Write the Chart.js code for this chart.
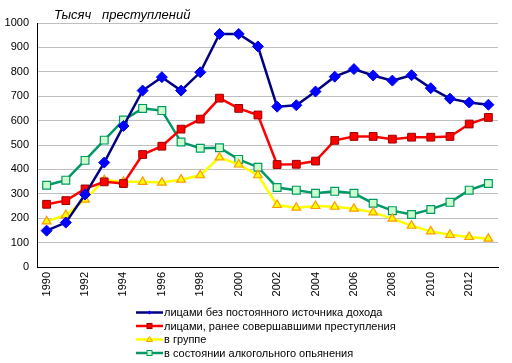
<!DOCTYPE html>
<html>
<head>
<meta charset="utf-8">
<script src="https://cdn.jsdelivr.net/npm/chart.js@4"></script>
<style>
  html, body { margin: 0; padding: 0; background: #fff; }
  #wrap { width: 512px; height: 363px; }
</style>
</head>
<body>
<div id="wrap"><canvas id="myChart" width="512" height="363"></canvas></div>
<script>
const years = [1990, 1991, 1992, 1993, 1994, 1995, 1996, 1997, 1998, 1999, 2000, 2001,
               2002, 2003, 2004, 2005, 2006, 2007, 2008, 2009, 2010, 2011, 2012, 2013];
const noIncome = [149, 182, 297, 428, 578, 723, 778, 723, 798, 955, 955, 904,
                  657, 663, 719, 780, 811, 785, 764, 786, 733, 690, 674, 665];
const repeatOffenders = [257, 272, 320, 349, 342, 461, 495, 565, 606, 692, 650, 623,
                         420, 421, 434, 519, 535, 535, 524, 532, 532, 535, 586, 613];
const inGroup = [187, 213, 276, 356, 349, 349, 346, 358, 376, 449, 420, 376,
                 254, 243, 250, 247, 239, 224, 198, 169, 146, 132, 123, 116];
const drunk = [335, 356, 437, 520, 602, 650, 641, 512, 487, 489, 441, 409,
               326, 315, 302, 310, 302, 261, 231, 215, 236, 265, 315, 342];
const seriesNames = ['лицами без постоянного источника дохода',
                     'лицами, ранее совершавшими преступления',
                     'в группе',
                     'в состоянии алкогольного опьянения'];
const yTicks = [0, 100, 200, 300, 400, 500, 600, 700, 800, 900, 1000];
const titleText = 'Тысяч   преступлений';

const FONT = 'Arial, "Liberation Sans", sans-serif';

// title + vertical legend drawn under the axis
const extras = {
    id: 'extras',
    afterDraw(chart) {
        const c = chart.ctx;
        const area = chart.chartArea;
        c.save();
        c.fillStyle = '#000';
        c.font = 'italic 13px ' + FONT;
        c.textBaseline = 'alphabetic';
        c.textAlign = 'left';
        c.fillText(titleText, area.left + 17, 18.5);

        c.font = '11px ' + FONT;
        c.textBaseline = 'middle';
        const x0 = 136, y0 = 312.5, step = 13.5;
        chart.data.datasets.forEach((ds, i) => {
            const y = y0 + i * step;
            c.strokeStyle = ds.borderColor;
            c.lineWidth = 2.5;
            c.beginPath();
            c.moveTo(x0, y);
            c.lineTo(x0 + 27, y);
            c.stroke();
            c.fillStyle = ds.pointBackgroundColor;
            c.strokeStyle = ds.pointBorderColor;
            c.lineWidth = 1;
            const mx = x0 + 13.5;
            if (ds.pointStyle === 'rectRot') {
                c.beginPath();
                c.moveTo(mx, y - 2); c.lineTo(mx + 2, y); c.lineTo(mx, y + 2); c.lineTo(mx - 2, y);
                c.closePath(); c.fill();
            } else if (ds.pointStyle === 'rect') {
                c.fillRect(mx - 2.5, y - 2.5, 5, 5);
                c.strokeRect(mx - 2.5, y - 2.5, 5, 5);
            } else {
                c.beginPath();
                c.moveTo(mx, y - 3); c.lineTo(mx + 3, y + 2); c.lineTo(mx - 3, y + 2);
                c.closePath(); c.fill(); c.stroke();
            }
            c.fillStyle = '#000';
            c.fillText(ds.label, x0 + 28, y + 0.5);
        });
        c.restore();
    }
};

const ctx = document.getElementById('myChart');
new Chart(ctx, {
    type: 'line',
    data: {
        labels: years,
        datasets: [{
            label: seriesNames[0],
            data: noIncome,
            borderColor: '#000080',
            borderWidth: 2.5,
            pointStyle: 'rectRot',
            pointRadius: 5.5,
            pointBackgroundColor: '#0000ff',
            pointBorderColor: '#0000ff',
            pointBorderWidth: 1
        }, {
            label: seriesNames[1],
            data: repeatOffenders,
            borderColor: '#ff0000',
            borderWidth: 2.5,
            pointStyle: 'rect',
            pointRadius: 5.5,
            pointBackgroundColor: '#ff0000',
            pointBorderColor: '#990000',
            pointBorderWidth: 1
        }, {
            label: seriesNames[2],
            data: inGroup,
            borderColor: '#ffff00',
            borderWidth: 2.5,
            pointStyle: 'triangle',
            pointRadius: 5,
            pointBackgroundColor: '#ffff00',
            pointBorderColor: '#ff9900',
            pointBorderWidth: 1.2
        }, {
            label: seriesNames[3],
            data: drunk,
            borderColor: '#009966',
            borderWidth: 2.5,
            pointStyle: 'rect',
            pointRadius: 5.5,
            pointBackgroundColor: '#ccffcc',
            pointBorderColor: '#009966',
            pointBorderWidth: 1.2
        }]
    },
    options: {
        responsive: false,
        animation: false,
        devicePixelRatio: 1,
        tension: 0,
        layout: { padding: { left: 0, right: 14, top: 23, bottom: 56 } },
        plugins: {
            legend: { display: false },
            title: { display: false },
            tooltip: { enabled: false }
        },
        scales: {
            x: {
                offset: true,
                grid: { display: false, drawTicks: false },
                border: { color: '#000', width: 1 },
                ticks: {
                    autoSkip: false,
                    minRotation: 90,
                    maxRotation: 90,
                    padding: 5,
                    color: '#000',
                    font: { family: FONT, size: 11 },
                    callback: function (v, i) {
                        const yr = years[i];
                        return yr % 2 === 0 ? String(yr) : '';
                    }
                },
                afterFit: s => { s.height = 40; }
            },
            y: {
                min: 0,
                max: 1000,
                afterBuildTicks: s => { s.ticks = yTicks.map(v => ({ value: v })); },
                grid: { color: '#c0c0c0', drawTicks: false },
                border: { color: '#000', width: 1 },
                ticks: {
                    padding: 8,
                    color: '#000',
                    font: { family: FONT, size: 11 },
                    callback: v => String(v)
                },
                afterFit: s => { s.width = 37; }
            }
        }
    },
    plugins: [extras]
});
</script>
</body>
</html>
